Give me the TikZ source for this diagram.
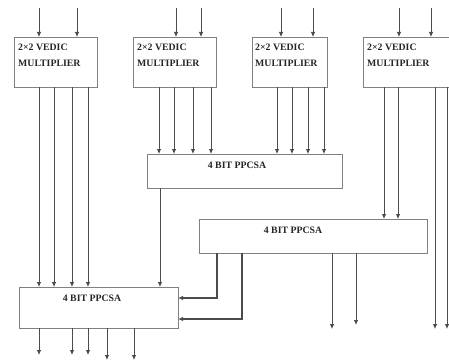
\documentclass[tikz,border=0pt]{standalone}
\usepackage{fontspec}
\setmainfont{Liberation Serif}
\usetikzlibrary{arrows.meta}
\tikzset{
  blk/.style={draw=black!50, line width=0.9pt, rectangle, inner sep=0pt, outer sep=0pt},
  lbl/.style={font=\fontsize{9.8}{11}\selectfont\bfseries, text=black!85, inner sep=0pt},
  arr/.style={draw=black!70, line width=0.8pt, -{Latex[length=5pt,width=4.5pt]}},
  wire/.style={draw=black!70, line width=1.2pt, -{Latex[length=5pt,width=4.5pt]}}
}
\begin{document}
\begin{tikzpicture}[x=1pt,y=-1pt]
\useasboundingbox (0,0) rectangle (449,361);
\clip (0,0) rectangle (449,361);
\fill[white] (0,0) rectangle (449,361);
% multipliers
\node[blk, minimum width=83, minimum height=50] (m1) at (55.5,62) {};
\node[blk, minimum width=83, minimum height=50] (m2) at (174.5,62) {};
\node[blk, minimum width=75, minimum height=50] (m3) at (289.5,62) {};
\node[blk, minimum width=97, minimum height=50] (m4) at (411.5,62) {};
\foreach \m/\x in {m1/18, m2/137, m3/255, m4/367}{
  \node[lbl, anchor=west] (\m a) at (\x,47) {2×2 VEDIC};
  \node[lbl, anchor=west] (\m b) at (\x,63) {MULTIPLIER};
}
% PPCSA blocks
\node[blk, minimum width=195, minimum height=34] (pa) at (244.5,171) {};
\node[lbl] (pat) at (237,165) {4 BIT PPCSA};
\node[blk, minimum width=228, minimum height=34] (pb) at (313,236) {};
\node[lbl] (pbt) at (293,230) {4 BIT PPCSA};
\node[blk, minimum width=159, minimum height=41] (pc) at (98.5,307.5) {};
\node[lbl] (pct) at (92,298) {4 BIT PPCSA};
% inputs
\foreach \m/\x in {m1/39, m1/77, m2/176, m2/201, m3/281, m3/313, m4/399, m4/431}{
  \draw[arr] (\x,8) -- (\m.north -| \x,0);
}
% multiplier 1 outputs to PPCSA C
\foreach \x in {39,54,72,88}{
  \draw[arr] (m1.south -| \x,0) -- (pc.north -| \x,0);
}
% multiplier 2 and 3 outputs to PPCSA A
\foreach \x in {159,174,193,211}{
  \draw[arr] (m2.south -| \x,0) -- (pa.north -| \x,0);
}
\foreach \x in {277,292,308,324}{
  \draw[arr] (m3.south -| \x,0) -- (pa.north -| \x,0);
}
% multiplier 4 outputs
\foreach \x in {384,398}{
  \draw[arr] (m4.south -| \x,0) -- (pb.north -| \x,0);
}
\coordinate (o1) at (435,329);
\coordinate (o2) at (447,329);
\draw[arr] (m4.south -| o1) -- (o1);
\draw[arr] (m4.south -| o2) -- (o2);
% PPCSA A to C
\draw[arr] (pa.south -| 160,0) -- (pc.north -| 160,0);
% PPCSA B outputs
\coordinate (o3) at (332,329);
\coordinate (o4) at (356,325);
\draw[arr] (pb.south -| o3) -- (o3);
\draw[arr] (pb.south -| o4) -- (o4);
% PPCSA B to C
\draw[wire] (pb.south -| 217,0) |- (pc.east |- 0,298);
\draw[wire] (pb.south -| 242,0) |- (pc.east |- 0,319);
% PPCSA C outputs
\foreach \x/\y in {39/355, 72/355, 88/355, 107/360, 134/360}{
  \draw[arr] (pc.south -| \x,0) -- (\x,\y);
}
\end{tikzpicture}
\end{document}
